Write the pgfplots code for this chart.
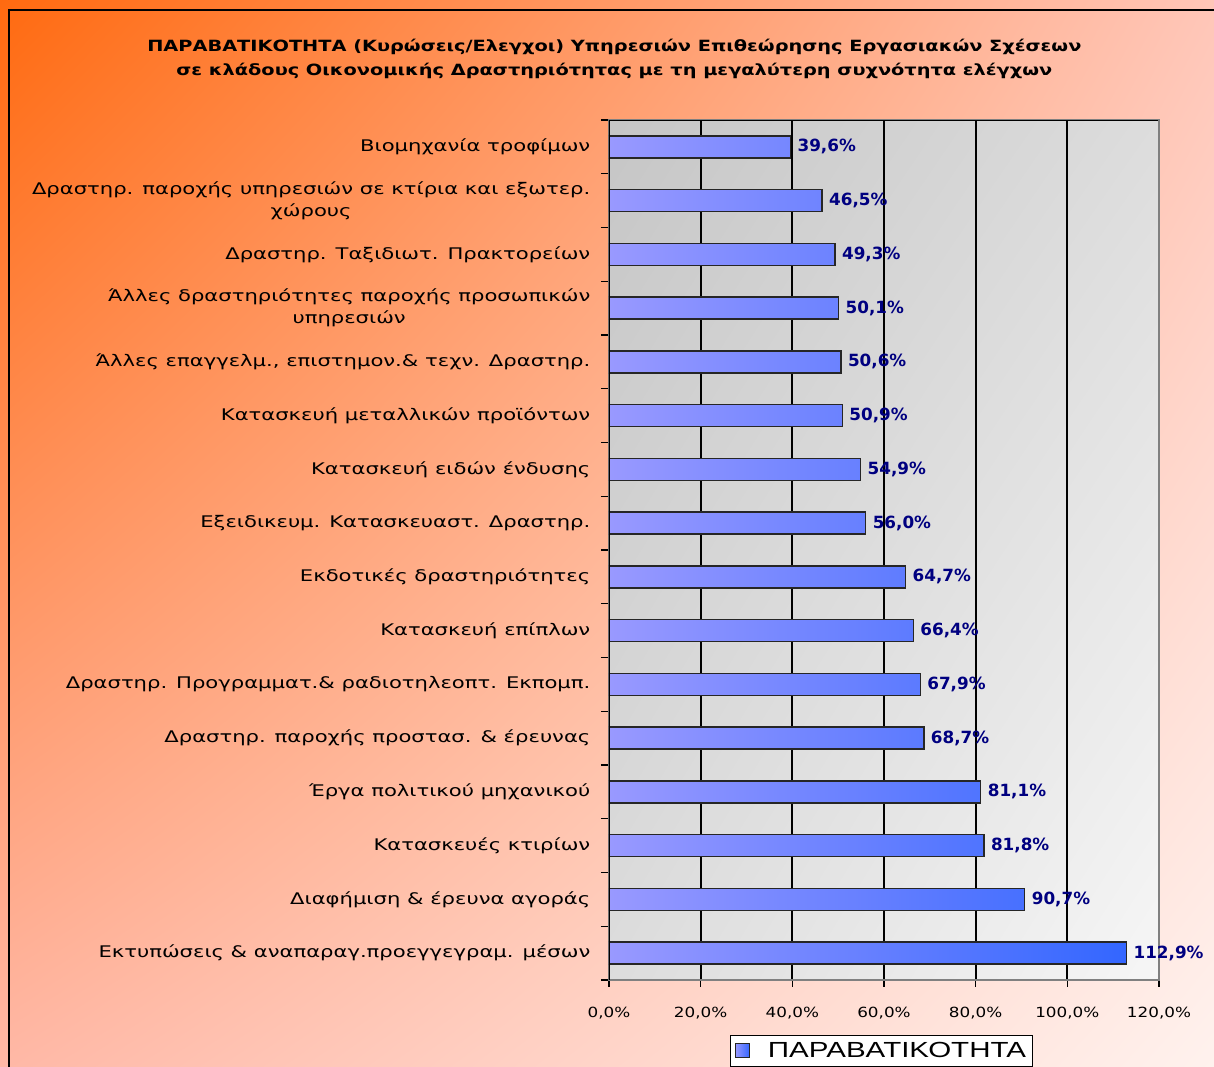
\documentclass[border=0pt]{standalone}
\usepackage{fontspec}
\setmainfont{DejaVu Sans}
\newfontfamily\titlefont[FakeStretch=1.25]{DejaVu Sans}
\newfontfamily\catfont[FakeStretch=1.32]{DejaVu Sans}
\newfontfamily\tickfont[FakeStretch=1.2]{DejaVu Sans}
\newfontfamily\legfont[FakeStretch=1.35]{Liberation Sans}
\usepackage{pgfplots}
\pgfplotsset{compat=1.18}
\usetikzlibrary{shadings}
\definecolor{bgA}{HTML}{FF6A10}
\definecolor{bgB}{HTML}{FFC6B8}
\definecolor{bgC}{HTML}{FFB8A6}
\definecolor{bgD}{HTML}{FFF2EE}
\definecolor{barL}{HTML}{9999FF}
\definecolor{barR}{HTML}{3366FF}
\definecolor{navy}{HTML}{000080}
\pgfplotsset{
  squarelegend/.style={
    legend image code/.code={
      \draw[#1, line width=0.8pt] (3pt,-5pt) rectangle (14pt,5.5pt);
      \path (25pt,0pt);}
  }
}

\begin{document}
\begin{tikzpicture}
  % page = 1214 x 1067 px, 1px = 0.75pt, origin at the plot's lower left corner
  \useasboundingbox (-456.75pt,-65.25pt) rectangle (453.75pt,735pt);
  \clip (-456.75pt,-65.25pt) rectangle (453.75pt,735pt);
  \shade[upper left=bgA, upper right=bgB, lower left=bgC, lower right=bgD]
    (-456.75pt,-65.25pt) rectangle (453.75pt,735pt);
  \draw[black, line width=1.5pt] (-450pt,-90pt) rectangle (470pt,727.5pt);
  \shade[upper left=gray!45, upper right=gray!27, lower left=gray!27, lower right=gray!7]
    (0pt,0pt) rectangle (412.5pt,645pt);
  \node[font=\titlefont\bfseries\fontsize{11.6}{18}\selectfont, align=center]
    at (4pt,690.75pt) {ΠΑΡΑΒΑΤΙΚΟΤΗΤΑ (Κυρώσεις/Ελεγχοι) Υπηρεσιών Επιθεώρησης Εργασιακών Σχέσεων\\
    σε κλάδους Οικονομικής Δραστηριότητας με τη μεγαλύτερη συχνότητα ελέγχων};

  \begin{axis}[
    at={(0pt,0pt)}, anchor=south west,
    width=412.5pt, height=645pt, scale only axis,
    xbar, bar width=16.5pt,
    xmin=0, xmax=120, ymin=0.5, ymax=16.5, y dir=reverse,
    xtick={0,20,...,120},
    ytick={1,...,16},
    minor ytick={0.5,1.5,...,16.5},
    yticklabels={
      {Βιομηχανία τροφίμων},
      {Δραστηρ. παροχής υπηρεσιών σε κτίρια και εξωτερ.\\χώρους},
      {Δραστηρ. Ταξιδιωτ. Πρακτορείων},
      {Άλλες δραστηριότητες παροχής προσωπικών\\υπηρεσιών},
      {Άλλες επαγγελμ., επιστημον.\& τεχν. Δραστηρ.},
      {Κατασκευή μεταλλικών προϊόντων},
      {Κατασκευή ειδών ένδυσης},
      {Εξειδικευμ. Κατασκευαστ. Δραστηρ.},
      {Εκδοτικές δραστηριότητες},
      {Κατασκευή επίπλων},
      {Δραστηρ. Προγραμματ.\& ραδιοτηλεοπτ. Εκπομπ.},
      {Δραστηρ. παροχής προστασ. \& έρευνας},
      {Έργα πολιτικού μηχανικού},
      {Κατασκευές κτιρίων},
      {Διαφήμιση \& έρευνα αγοράς},
      {Εκτυπώσεις \& αναπαραγ.προεγγεγραμ. μέσων}},
    tick align=outside, tick pos=left,
    major tick length=5pt, minor tick length=6pt,
    every major y tick/.style={draw=none},
    every minor y tick/.style={black, line width=1pt},
    every major x tick/.style={black, line width=1pt},
    xmajorgrids, grid style={black, line width=1.3pt},
    axis line style={draw=gray, line width=1.5pt},
    yticklabel style={font=\catfont\fontsize{12}{16.5}\selectfont, align=center, text=black, xshift=-5.5pt},
    xticklabel style={font=\tickfont\fontsize{10.5}{13}\selectfont, text=black, yshift=-12pt},
    xticklabel={\pgfmathprintnumber[fixed,fixed zerofill,precision=1,use comma]{\tick}\%},
    /pgf/number format/assume math mode=true,
    point meta=x,
    nodes near coords={\pgfmathprintnumber[fixed,fixed zerofill,precision=1,use comma,assume math mode=true]{\pgfplotspointmeta}\%},
    nodes near coords style={font=\bfseries\fontsize{12.6}{14}\selectfont, text=navy, anchor=west, xshift=1.5pt},
    legend style={at={(0.22,-0.064)}, anchor=north west, draw=black, fill=white,
      line width=1pt, font=\legfont\fontsize{16.4}{19}\selectfont,
      inner xsep=3pt, inner ysep=3pt},
  ]
    \addplot[squarelegend, draw=black!85, line width=1pt, left color=barL, right color=barR]
      coordinates {
      (39.6,1) (46.5,2) (49.3,3) (50.1,4) (50.6,5) (50.9,6) (54.9,7) (56.0,8)
      (64.7,9) (66.4,10) (67.9,11) (68.7,12) (81.1,13) (81.8,14) (90.7,15) (112.9,16)
    };
    \addlegendentry{ΠΑΡΑΒΑΤΙΚΟΤΗΤΑ}
    \draw[black, line width=1.5pt] (rel axis cs:0,0) -- (rel axis cs:0,1);
    \draw[black, line width=1.5pt] (rel axis cs:0,1) -- (rel axis cs:1,1);
    \draw[gray, line width=1.5pt] (rel axis cs:1,1) -- (rel axis cs:1,0);
  \end{axis}
\end{tikzpicture}
\end{document}
